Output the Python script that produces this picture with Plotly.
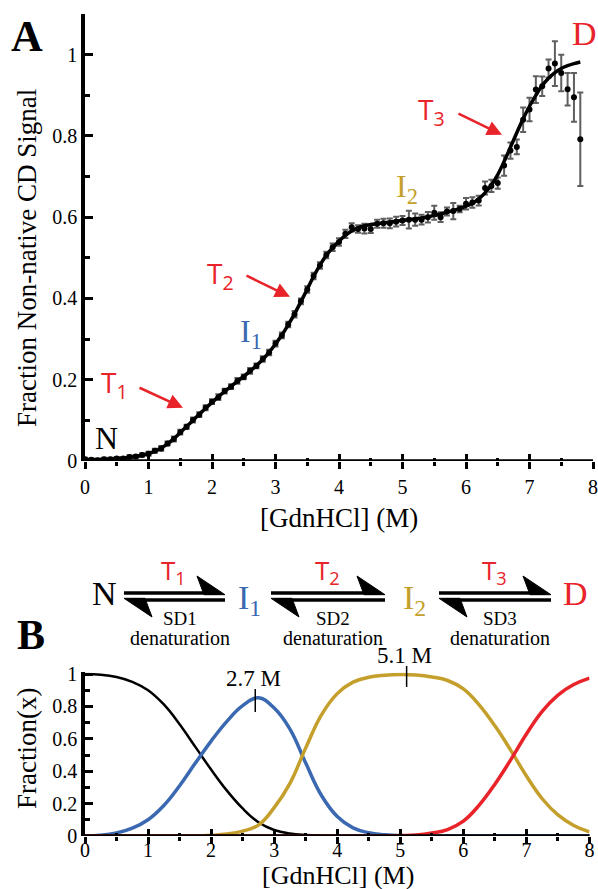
import plotly.graph_objects as go

W, H = 598, 889
SERIF = "Liberation Serif"
SANS = "Open Sans"
RED = "#E8232A"
BLUE = "#3A68B1"
GOLD = "#C59F2C"
GREY = "#5F5F5F"

# ---------------- Panel A data ----------------
gdn = [0.0, 0.1, 0.2, 0.3, 0.4, 0.5, 0.6, 0.7, 0.8, 0.9,
       1.0, 1.1, 1.2, 1.3, 1.4, 1.5, 1.6, 1.7, 1.8, 1.9,
       2.0, 2.1, 2.2, 2.3, 2.4, 2.5, 2.6, 2.7, 2.8, 2.9,
       3.0, 3.1, 3.2, 3.3, 3.4, 3.5, 3.6, 3.7, 3.8, 3.9,
       4.0, 4.1, 4.2, 4.3, 4.4, 4.5, 4.6, 4.7, 4.8, 4.9,
       5.0, 5.1, 5.2, 5.3, 5.4, 5.5, 5.6, 5.7, 5.8, 5.9,
       6.0, 6.1, 6.2, 6.3, 6.4, 6.5, 6.6, 6.7, 6.8, 6.9,
       7.0, 7.1, 7.2, 7.3, 7.4, 7.5, 7.6, 7.7, 7.8]

signal = [0.004, 0.003, 0.002, 0.004, 0.004, 0.006, 0.006, 0.010, 0.011, 0.015,
          0.018, 0.025, 0.031, 0.043, 0.054, 0.071, 0.084, 0.101, 0.114, 0.131,
          0.146, 0.157, 0.172, 0.183, 0.197, 0.207, 0.222, 0.234, 0.251, 0.267,
          0.289, 0.309, 0.336, 0.361, 0.393, 0.422, 0.455, 0.481, 0.507, 0.526,
          0.539, 0.559, 0.575, 0.571, 0.572, 0.571, 0.584, 0.585, 0.585, 0.589,
          0.592, 0.594, 0.594, 0.594, 0.600, 0.611, 0.600, 0.614, 0.615, 0.620,
          0.633, 0.636, 0.641, 0.672, 0.677, 0.684, 0.727, 0.764, 0.773, 0.840,
          0.865, 0.914, 0.922, 0.966, 0.978, 0.955, 0.915, 0.895, 0.792]

signal_err = [0.004, 0.004, 0.004, 0.004, 0.004, 0.004, 0.004, 0.004, 0.004, 0.004,
              0.005, 0.005, 0.006, 0.005, 0.006, 0.006, 0.005, 0.006, 0.006, 0.006,
              0.006, 0.007, 0.006, 0.006, 0.007, 0.006, 0.007, 0.006, 0.007, 0.007,
              0.007, 0.007, 0.007, 0.008, 0.007, 0.008, 0.008, 0.008, 0.008, 0.009,
              0.009, 0.010, 0.010, 0.009, 0.012, 0.010, 0.010, 0.011, 0.012, 0.012,
              0.011, 0.022, 0.015, 0.012, 0.013, 0.017, 0.012, 0.010, 0.020, 0.008,
              0.014, 0.013, 0.012, 0.016, 0.015, 0.014, 0.025, 0.020, 0.018, 0.030,
              0.029, 0.033, 0.024, 0.022, 0.055, 0.045, 0.040, 0.060, 0.115]

fit = [0.003, 0.003, 0.003, 0.004, 0.005, 0.006, 0.007, 0.009, 0.011, 0.014,
       0.018, 0.024, 0.032, 0.042, 0.055, 0.070, 0.085, 0.100, 0.115, 0.130,
       0.144, 0.158, 0.171, 0.184, 0.196, 0.208, 0.221, 0.235, 0.250, 0.268,
       0.288, 0.310, 0.335, 0.362, 0.392, 0.423, 0.454, 0.482, 0.506, 0.525,
       0.541, 0.555, 0.566, 0.574, 0.579, 0.582, 0.584, 0.586, 0.588, 0.590,
       0.592, 0.594, 0.596, 0.598, 0.601, 0.604, 0.608, 0.612, 0.617, 0.621,
       0.627, 0.634, 0.645, 0.660, 0.679, 0.705, 0.737, 0.772, 0.808, 0.842,
       0.873, 0.900, 0.924, 0.942, 0.956, 0.966, 0.973, 0.978, 0.982]

# ---------------- Panel B data ----------------
gdn_b = [0.0, 0.25, 0.5, 0.75, 1.0, 1.25, 1.5, 1.75, 2.0, 2.25, 2.5, 2.75,
         3.0, 3.25, 3.5, 3.75, 4.0, 4.25, 4.5, 4.75, 5.0, 5.25, 5.5, 5.75,
         6.0, 6.25, 6.5, 6.75, 7.0, 7.25, 7.5, 7.75, 8.0]
frac_N = [1.0, 0.996, 0.982, 0.952, 0.9, 0.812, 0.69, 0.55, 0.41, 0.28, 0.17, 0.085,
          0.037, 0.015, 0.006, 0.002, 0.0, 0.0, 0.0, 0.0, 0.0, 0.0, 0.0, 0.0,
          0.0, 0.0, 0.0, 0.0, 0.0, 0.0, 0.0, 0.0, 0.0]
frac_I1 = [0.0, 0.004, 0.018, 0.048, 0.1, 0.188, 0.31, 0.45, 0.586, 0.708, 0.805, 0.853,
           0.79, 0.66, 0.45, 0.25, 0.12, 0.05, 0.02, 0.008, 0.002, 0.0, 0.0, 0.0,
           0.0, 0.0, 0.0, 0.0, 0.0, 0.0, 0.0, 0.0, 0.0]
frac_I2 = [0.0, 0.0, 0.0, 0.0, 0.0, 0.0, 0.0, 0.0, 0.004, 0.012, 0.03, 0.067,
           0.175, 0.325, 0.544, 0.748, 0.879, 0.95, 0.98, 0.992, 0.997, 0.994, 0.982, 0.96,
           0.908, 0.81, 0.68, 0.53, 0.37, 0.23, 0.13, 0.065, 0.025]
frac_D = [0.0, 0.0, 0.0, 0.0, 0.0, 0.0, 0.0, 0.0, 0.0, 0.0, 0.0, 0.0,
          0.0, 0.0, 0.0, 0.0, 0.0, 0.0, 0.0, 0.0, 0.003, 0.006, 0.018, 0.04,
          0.092, 0.19, 0.32, 0.47, 0.63, 0.77, 0.87, 0.935, 0.975]
peak_x = [2.7, 5.1]
peak_labels = ["2.7 M", "5.1 M"]

tick_vals = [0, 1, 2, 3, 4, 5, 6, 7, 8]


def pxx(x):
    return x / W


def pyy(y):
    return 1 - y / H


fig = go.Figure()

# Panel A
fig.add_trace(go.Scatter(
    x=gdn, y=signal, mode="markers", xaxis="x", yaxis="y",
    marker=dict(color="black", size=6),
    error_y=dict(type="data", array=signal_err, color=GREY, thickness=2, width=3),
    showlegend=False, hoverinfo="skip"))
fig.add_trace(go.Scatter(
    x=gdn, y=fit, mode="lines", xaxis="x", yaxis="y",
    line=dict(color="black", width=3.5, shape="spline"),
    showlegend=False, hoverinfo="skip"))
# invisible trace so the overlay tick axis (outside ticks) is drawn
fig.add_trace(go.Scatter(x=gdn, y=fit, mode="lines", xaxis="x3", yaxis="y",
                         line=dict(width=0), opacity=0, showlegend=False, hoverinfo="skip"))

# Panel B
for ys, col, wd in [(frac_N, "black", 2.5), (frac_I1, BLUE, 3.5),
                    (frac_I2, GOLD, 3.5), (frac_D, RED, 3.5)]:
    fig.add_trace(go.Scatter(x=gdn_b, y=ys, mode="lines", xaxis="x2", yaxis="y2",
                             line=dict(color=col, width=wd, shape="spline", smoothing=1.2),
                             showlegend=False, hoverinfo="skip"))
fig.add_trace(go.Scatter(x=gdn_b, y=frac_N, mode="lines", xaxis="x4", yaxis="y2",
                         line=dict(width=0), opacity=0, showlegend=False, hoverinfo="skip"))

tickfont = dict(family=SERIF, size=20, color="black")

# main x axes: labels + inside ticks; overlay axes: outside ticks -> crossing ticks
x_main = dict(range=[0, 8], tickvals=tick_vals, ticks="inside", ticklen=7, tickwidth=2.5,
              tickcolor="black", tickfont=tickfont, showline=False, showgrid=False,
              zeroline=False,
              minor=dict(dtick=0.5, tick0=0, ticks="inside", ticklen=3.5,
                         tickwidth=2.5, tickcolor="black"))
x_over = dict(range=[0, 8], tickvals=tick_vals, ticks="outside", ticklen=7, tickwidth=2.5,
              tickcolor="black", showticklabels=False, showline=False, showgrid=False,
              zeroline=False,
              minor=dict(dtick=0.5, tick0=0, ticks="outside", ticklen=3.5,
                         tickwidth=2.5, tickcolor="black"))
y_main = dict(showline=True, linecolor="black", linewidth=3.5, showgrid=False,
              zeroline=False, tickcolor="black", tickfont=tickfont,
              dtick=0.2, tick0=0, ticks="inside", ticklen=8, tickwidth=2.5,
              minor=dict(dtick=0.1, tick0=0, ticks="inside", ticklen=5,
                         tickwidth=2.5, tickcolor="black"))

fig.update_layout(
    width=W, height=H,
    margin=dict(l=0, r=0, t=0, b=0),
    paper_bgcolor="white", plot_bgcolor="rgba(0,0,0,0)",
    template="none",
    font=dict(family=SERIF, color="black"),
    showlegend=False,
    xaxis=dict(x_main, domain=[pxx(85), pxx(593)], anchor="y", ticklabelstandoff=12),
    xaxis3=dict(x_over, overlaying="x", anchor="y"),
    yaxis=dict(y_main, domain=[pyy(461), pyy(14)], anchor="x", range=[0, 1.1001]),
    xaxis2=dict(x_main, domain=[pxx(85), pxx(589.5)], anchor="y2", ticklabelstandoff=0),
    xaxis4=dict(x_over, overlaying="x2", anchor="y2"),
    yaxis2=dict(y_main, domain=[pyy(836), pyy(672.4)], anchor="x2", range=[0, 1.01]),
)

ann = []


def txt(text, x, y, size, color="black", family=SERIF, **kw):
    ann.append(dict(text=text, x=pxx(x), y=pyy(y), xref="paper", yref="paper",
                    showarrow=False, xanchor="center", yanchor="middle",
                    font=dict(family=family, size=size, color=color), **kw))


# panel letters and axis titles
txt("<b>A</b>", 27, 37, 44)
txt("<b>B</b>", 31, 635, 42)
txt("Fraction Non-native CD Signal", 27, 258, 27, textangle=-90)
txt("[GdnHCl] (M)", 339, 518, 27)
txt("Fraction(x)", 27, 749, 27, textangle=-90)
txt("[GdnHCl] (M)", 338, 875, 26)


def dtxt(text, x, y, size, color, family=SERIF, xr="x", yr="y"):
    ann.append(dict(text=text, x=x, y=y, xref=xr, yref=yr, showarrow=False,
                    xanchor="center", yanchor="middle",
                    font=dict(family=family, size=size, color=color)))


# state labels in panel A
dtxt("N", 0.34, 0.056, 32, "black")
dtxt("I<sub>1</sub>", 2.61, 0.315, 32, BLUE)
dtxt("I<sub>2</sub>", 5.07, 0.67, 32, GOLD)
dtxt("D", 7.87, 1.052, 34, RED)
dtxt("T<sub>1</sub>", 0.47, 0.19, 28, RED, SANS)
dtxt("T<sub>2</sub>", 2.14, 0.458, 28, RED, SANS)
dtxt("T<sub>3</sub>", 5.45, 0.862, 28, RED, SANS)

for (tx, ty, hx, hy) in [(0.835, 0.182, 1.543, 0.131),
                         (2.52, 0.458, 3.228, 0.404),
                         (5.858, 0.857, 6.567, 0.803)]:
    ann.append(dict(text="", x=hx, y=hy, ax=tx, ay=ty, xref="x", yref="y",
                    axref="x", ayref="y", showarrow=True, arrowhead=2,
                    arrowsize=1.2, arrowwidth=2.5, arrowcolor=RED))

# panel B peak labels (x in data units, y in page position)
for px_, lab, ylab in zip(peak_x, peak_labels, [678, 655]):
    ann.append(dict(text=lab, x=px_ - 0.03, y=pyy(ylab), xref="x2", yref="paper",
                    showarrow=False, xanchor="center", yanchor="middle",
                    font=dict(family=SERIF, size=23, color="black")))

# reaction scheme
txt("N", 104, 593, 34)
txt("I<sub>1</sub>", 249, 600, 34, BLUE)
txt("I<sub>2</sub>", 414, 600, 34, GOLD)
txt("D", 575, 593, 34, RED)
shapes = []
for i, (x0, x1) in enumerate([(124, 225), (271, 385), (439, 551)]):
    cx = (x0 + x1) / 2
    txt("T<sub>%d</sub>" % (i + 1), cx - 1, 571, 26, RED, SANS)
    txt("SD%d" % (i + 1), cx + 5, 618, 19)
    txt("denaturation", cx + 5, 638, 20)
    yt, yb = 593, 600
    shapes.append(dict(type="line", xref="paper", yref="paper",
                       x0=pxx(x0), x1=pxx(x1 - 6), y0=pyy(yt), y1=pyy(yt),
                       line=dict(color="black", width=3.5)))
    shapes.append(dict(type="line", xref="paper", yref="paper",
                       x0=pxx(x0 + 6), x1=pxx(x1), y0=pyy(yb), y1=pyy(yb),
                       line=dict(color="black", width=3.5)))
    p1 = "M %f,%f L %f,%f L %f,%f Z" % (pxx(x1), pyy(yt + 1.7), pxx(x1 - 28), pyy(yt - 17),
                                       pxx(x1 - 21), pyy(yt + 1.7))
    p2 = "M %f,%f L %f,%f L %f,%f Z" % (pxx(x0), pyy(yb - 1.7), pxx(x0 + 28), pyy(yb + 17),
                                       pxx(x0 + 21), pyy(yb - 1.7))
    for p in (p1, p2):
        shapes.append(dict(type="path", xref="paper", yref="paper", path=p,
                           fillcolor="black", line=dict(color="black", width=1)))

# peak marker ticks in panel B
for px_, (y0, y1) in zip(peak_x, [(712, 689), (687, 666)]):
    shapes.append(dict(type="line", xref="x2", yref="paper", x0=px_, x1=px_,
                       y0=pyy(y0), y1=pyy(y1), line=dict(color="black", width=1.5)))

# x-axis baselines drawn above the curves (so curves at zero sit under the axis)
for xr, yr in [("x domain", "y"), ("x2 domain", "y2")]:
    shapes.append(dict(type="line", xref=xr, yref=yr, x0=0, x1=1, y0=0, y1=0,
                       layer="above", line=dict(color="black", width=3.5)))

fig.update_layout(annotations=ann, shapes=shapes)
fig.write_html("out.html", config={"displayModeBar": False},
               post_script="document.body.style.margin='0';"
                           "document.body.style.overflow='hidden';")
